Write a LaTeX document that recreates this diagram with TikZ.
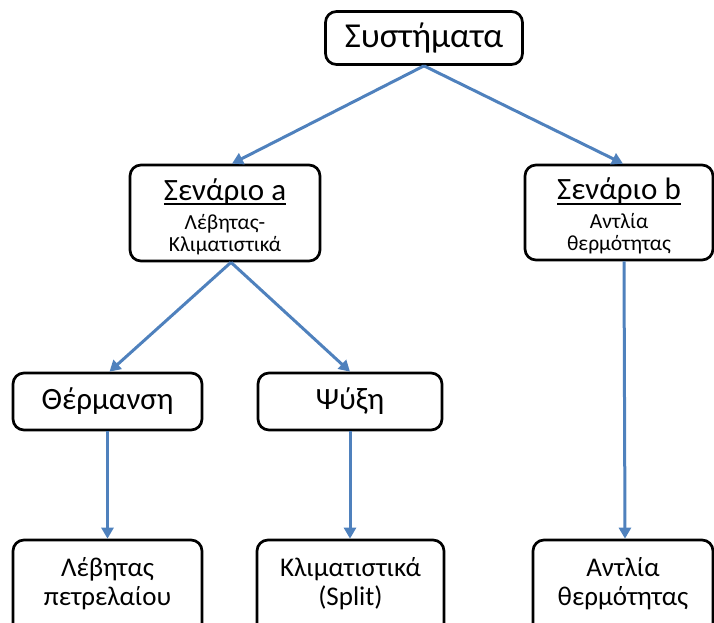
\documentclass[tikz,border=0pt]{standalone}
\usepackage{fontspec}
\setmainfont{Carlito}
\usetikzlibrary{arrows.meta}
\definecolor{arrowblue}{HTML}{4F81BD}
\newcommand{\titlefont}{\fontsize{31}{33}\selectfont}
\newcommand{\subfont}{\fontsize{21.5}{22}\selectfont}
\newcommand{\ulin}[1]{\setbox0\hbox{#1}\leavevmode\rlap{\usebox0}\rule[-5pt]{\wd0}{1.8pt}}
\tikzset{
  box/.style={draw=black, line width=2.7pt, rounded corners=11pt, fill=white, align=center, inner sep=0pt},
  conn/.style={draw=arrowblue, line width=3pt, -{Triangle[length=11pt,width=12pt]}},
  big/.style={font=\fontsize{31}{36}\selectfont},
  huge/.style={font=\fontsize{35}{38}\selectfont},
  small/.style={font=\fontsize{27}{29}\selectfont},
  scen/.style={font=\subfont}
}
\begin{document}
\begin{tikzpicture}[x=1pt,y=-1pt]
\useasboundingbox (0,0) rectangle (714,623);
\clip (0,0) rectangle (714,623);
\node[box,huge,minimum width=197pt,minimum height=53pt] (sys) at (424,38) {Συστήματα};
\node[box,scen,minimum width=190pt,minimum height=96pt] (sa) at (225,213)
  {{\titlefont\rule{0pt}{29pt}\ulin{Σενάριο a}}\\[7pt]Λέβητας-\\Κλιματιστικά};
\node[box,scen,minimum width=188pt,minimum height=95pt] (sb) at (619,212.5)
  {{\titlefont\rule{0pt}{29pt}\ulin{Σενάριο b}}\\[7pt]Αντλία\\θερμότητας};
\node[box,big,minimum width=189pt,minimum height=57pt] (th) at (107.5,401.5) {Θέρμανση};
\node[box,big,minimum width=184pt,minimum height=57pt] (ps) at (350,401.5) {Ψύξη};
\node[box,minimum width=189pt,minimum height=100pt] (lev) at (107.5,590) {};
\node[box,minimum width=187pt,minimum height=100pt] (kl) at (350.5,590) {};
\node[box,minimum width=180pt,minimum height=100pt] (ant) at (623,590) {};
\node[small,align=center] (levt) at (107.5,584) {Λέβητας\\πετρελαίου};
\node[small,align=center] (klt) at (350.5,584) {Κλιματιστικά\\(Split)};
\node[small,align=center] (antt) at (623,584) {Αντλία\\θερμότητας};
\draw[conn] (sys.south) -- ([xshift=7pt]sa.north);
\draw[conn] (sys.south) -- ([xshift=4pt]sb.north);
\draw[conn] ([xshift=6pt]sa.south) -- ([xshift=2pt]th.north);
\draw[conn] ([xshift=6pt]sa.south) -- (ps.north);
\draw[conn] (th.south) -- (lev.north);
\draw[conn] (ps.south) -- (kl.north -| ps.south);
\draw[conn] ([xshift=5pt]sb.south) -- ([xshift=2pt]ant.north);
\end{tikzpicture}
\end{document}
